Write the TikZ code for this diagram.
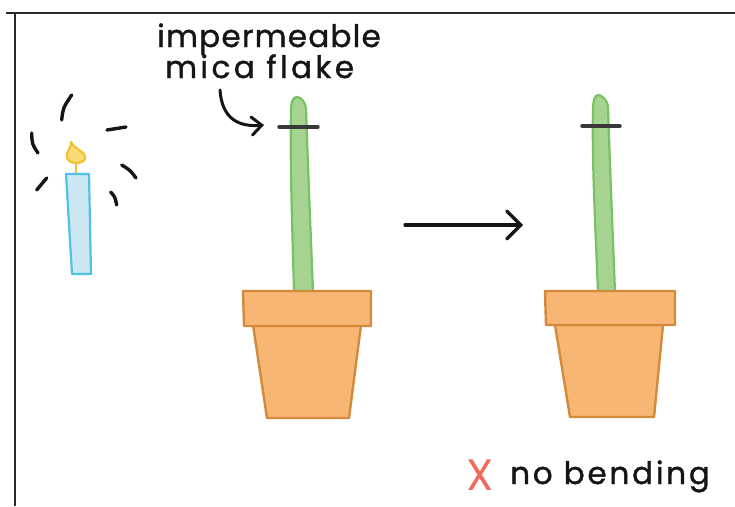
\documentclass[tikz,border=0pt]{standalone}
\usepackage{fontspec}
\setmainfont{Poppins}
\usetikzlibrary{arrows.meta}
\definecolor{ink}{HTML}{151515}
\definecolor{frameink}{HTML}{2A2A2A}
\definecolor{stemfill}{HTML}{A6D490}
\definecolor{stemline}{HTML}{78C164}
\definecolor{potfill}{HTML}{F7B673}
\definecolor{potline}{HTML}{D38A3C}
\definecolor{waxfill}{HTML}{CBE7F3}
\definecolor{waxline}{HTML}{52C1E3}
\definecolor{flamefill}{HTML}{FADB77}
\definecolor{flameline}{HTML}{F1C232}
\definecolor{crossred}{HTML}{F26A5E}
\tikzset{
  stem/.style={fill=stemfill, draw=stemline, line width=2.2pt, line join=round},
  pot/.style={fill=potfill, draw=potline, line width=2.4pt, line join=round},
  mica/.style={draw=ink!85, line width=3.4pt, line cap=round},
  ray/.style={draw=ink, line width=3.4pt, line cap=round},
  pointer/.style={draw=ink, line width=3pt, line cap=round, line join=round,
    -{Straight Barb[length=10pt,width=18pt,line cap=round]}},
  bigarrow/.style={draw=ink, line width=3.2pt, line cap=round, line join=round,
    -{Straight Barb[length=14pt,width=28pt,line cap=round]}},
  hand/.style={inner sep=0pt, text=ink},
}
\newfontfamily\handA[LetterSpace=4,FakeBold=1.2]{Poppins}
\newfontfamily\handB[LetterSpace=11,FakeBold=1.2]{Poppins}
\newfontfamily\handC[LetterSpace=9,FakeBold=1.2]{Poppins}
\begin{document}
\begin{tikzpicture}[x=1pt, y=-1pt]
\useasboundingbox (0,0) rectangle (735,506);
\fill[white] (0,0) rectangle (735,506);

% panel frame
\draw[frameink, line width=2.4pt] (6,13) -- (735,13);
\draw[frameink, line width=2.4pt] (15,13) -- (15,506);

% candle
\draw[ray] (61.7,120) .. controls (63,108) .. (71.7,95);
\draw[ray] (107,130) -- (126,127);
\draw[ray] (31.7,133) .. controls (32,144) .. (38,153);
\draw[ray] (36.7,190) -- (46.7,178);
\draw[ray] (121.7,165) .. controls (130,170) .. (136,178);
\draw[ray] (110.7,192) .. controls (115,197) .. (116.7,205);
\draw[flameline, line width=2.2pt] (76,174) -- (76,162);
\draw[fill=waxfill, draw=waxline, line width=2.2pt, line join=round]
  (66,174) -- (89,174) -- (91,274) -- (72,274) -- cycle;
\draw[fill=flamefill, draw=flameline, line width=2.2pt, line join=round]
  (71,142) .. controls (74,149) and (87,152) .. (85,159)
  .. controls (83,164) and (70,165) .. (67,158)
  .. controls (65,152) and (71,150) .. (71,142) -- cycle;

% first plant
\path[stem] (294,292) .. controls (292,220) and (290,160) .. (291,110)
  .. controls (291,100) and (294,97) .. (297,97)
  .. controls (301,97) and (305,102) .. (306,108)
  .. controls (308,170) and (311,240) .. (313,292) -- cycle;
\path[pot] (253,325) -- (361,325) -- (349,418) -- (267,418) -- cycle;
\path[pot] (243,291) -- (371,291) -- (371,326) -- (244,326) -- cycle;
\coordinate (flakeA) at (279,127);
\draw[mica] (flakeA) -- (318,127);

% second plant
\path[stem] (598,292) .. controls (595,220) and (592,160) .. (593,110)
  .. controls (593,100) and (595,95) .. (598,95)
  .. controls (602,95) and (607,100) .. (608,106)
  .. controls (610,170) and (613,240) .. (615,292) -- cycle;
\path[pot] (555,325) -- (663,325) -- (654,417) -- (570,417) -- cycle;
\path[pot] (545,291) -- (675,291) -- (675,325) -- (546,325) -- cycle;
\draw[mica] (582,126) -- (620,126);

% label and pointer to the flake
\node[hand, anchor=base west, font=\handA\fontsize{31}{32}\selectfont] (lab1) at (157,47) {impermeable};
\node[hand, anchor=base west, font=\handB\fontsize{31}{32}\selectfont] (lab2) at (165,78) {mica flake};
\coordinate (ptrstart) at (220,90);
\coordinate (ptrend) at (264,125);
\draw[pointer] (ptrstart) .. controls (222,120) and (240,127) .. (ptrend);

% arrow between the two plants
\coordinate (arrA) at (405,225);
\coordinate (arrB) at (523,225);
\draw[bigarrow] (arrA) -- (arrB);

% result
\node[text=crossred, inner sep=0pt, font=\fontsize{44}{44}\selectfont, anchor=base west] (cross) at (466,490) {X};
\node[hand, anchor=base west, font=\handC\fontsize{31}{32}\selectfont] (res) at (510,484) {no bending};
\end{tikzpicture}
\end{document}
